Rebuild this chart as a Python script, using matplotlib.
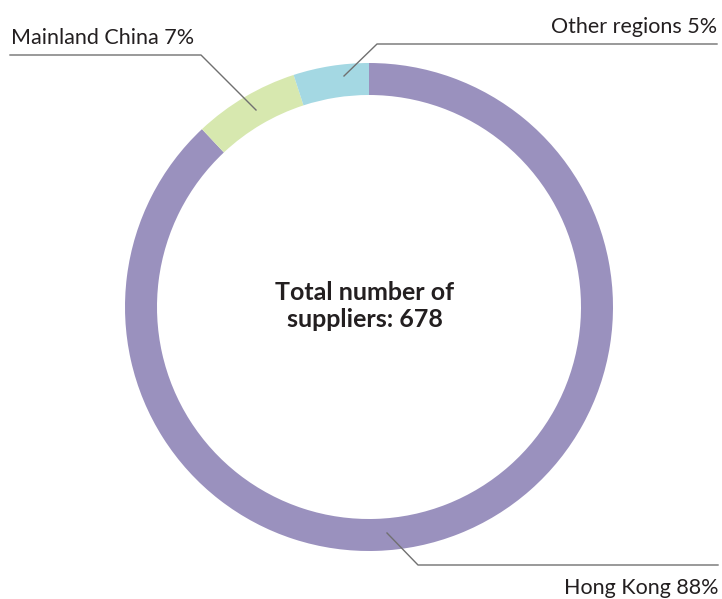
import numpy as np
import matplotlib
matplotlib.use('Agg')
import matplotlib.pyplot as plt

# supplier share by region
regions = ['Hong Kong', 'Mainland China', 'Other regions']
shares = [88, 7, 5]
colors = ['#9a91be', '#d7e8af', '#a4d8e3']
total_suppliers = 678

W, H = 722, 599
fig = plt.figure(figsize=(W / 100, H / 100), dpi=100)
ax = fig.add_axes([0, 0, 1, 1])

cx, cy = 369, H - 307
r = 244
ax.pie(shares, colors=colors, startangle=90, counterclock=False,
       center=(cx, cy), radius=r, frame=True,
       wedgeprops=dict(width=32, linewidth=0))
ax.set_xlim(0, W)
ax.set_ylim(0, H)
ax.set_aspect('equal')
ax.axis('off')

line_kw = dict(color='#707070', lw=1)
font = 'Lato'
fs = 15.5

# Mainland China label
ax.plot([10, 201, 256], [H - 55, H - 55, H - 110], **line_kw)
ax.text(11, H - 44, f'{regions[1]} {shares[1]}%', fontsize=fs, family=font,
        color='#231f20', ha='left', va='baseline')

# Other regions label
ax.plot([344, 377, 717], [H - 76, H - 44, H - 44], **line_kw)
ax.text(717, H - 33, f'{regions[2]} {shares[2]}%', fontsize=fs, family=font,
        color='#231f20', ha='right', va='baseline')

# Hong Kong label
ax.plot([387, 418, 718], [H - 533, H - 565, H - 565], **line_kw)
ax.text(718, H - 594, f'{regions[0]} {shares[0]}%', fontsize=fs, family=font,
        color='#231f20', ha='right', va='baseline')

ax.text(365, H - 306, f'Total number of\nsuppliers: {total_suppliers}',
        fontsize=18, family=font, fontweight='bold', color='#231f20',
        ha='center', va='center', linespacing=1.25)

fig.savefig('out.png', dpi=100)
